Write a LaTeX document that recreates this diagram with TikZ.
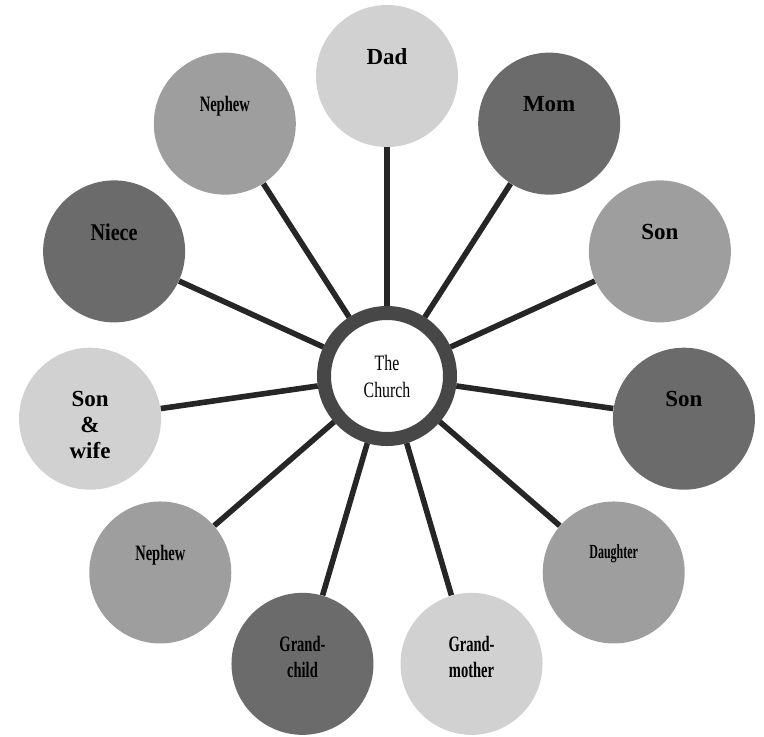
\documentclass[tikz,border=0pt]{standalone}
\usepackage{fontspec}
\setmainfont{Liberation Serif}
\colorlet{lightfill}{black!18}
\colorlet{midfill}{black!38}
\colorlet{darkfill}{black!58}
\begin{document}
\begin{tikzpicture}[x=1pt,y=1pt,
    member/.style={circle, minimum size=71pt, inner sep=0pt},
    link/.style={draw=black!85, line width=2.8pt},
    wide/.style={font=\fontsize{11.5}{13}\selectfont\bfseries},
    semi/.style={font=\fontsize{12}{13}\selectfont\bfseries\addfontfeature{FakeStretch=0.84}},
    narrow/.style={font=\fontsize{11}{13}\selectfont\bfseries\addfontfeature{FakeStretch=0.66}},
    tight/.style={font=\fontsize{10}{13}\selectfont\bfseries\addfontfeature{FakeStretch=0.6}}]
  \useasboundingbox (-193.5,-180) rectangle (188.5,188);

  % Anel central com o texto.
  \node[circle, draw=black!72, line width=7pt, fill=white, minimum size=63pt,
        inner sep=0pt, align=center,
        font=\fontsize{11}{13.5}\selectfont\addfontfeature{FakeStretch=0.72}]
        (church) at (0,0) {The\\Church};

  % Membros da familia, a cada 360/11 graus, ligados ao anel.
  \foreach \nome/\tom/\fonte/\texto [count=\k from 0] in {
      dad/lightfill/wide/Dad, mom/darkfill/wide/Mom, son/midfill/wide/Son,
      sonb/darkfill/wide/Son, daughter/midfill/tight/Daughter,
      grandma/lightfill/narrow/{Grand-\\mother}, grandchild/darkfill/narrow/{Grand-\\child},
      nephew/midfill/narrow/Nephew, sonwife/lightfill/wide/{Son\\\&\\wife},
      niece/darkfill/semi/Niece, nephewb/midfill/narrow/Nephew} {
    \node[member, fill=\tom] (\nome) at ({90-\k*360/11}:150) {};
    \node[anchor=north, inner sep=0pt, align=center, yshift=14pt, \fonte]
          (\nome-txt) at (\nome.center) {\texto};
    \draw[link] (\nome) -- (church);
  }
\end{tikzpicture}
\end{document}
